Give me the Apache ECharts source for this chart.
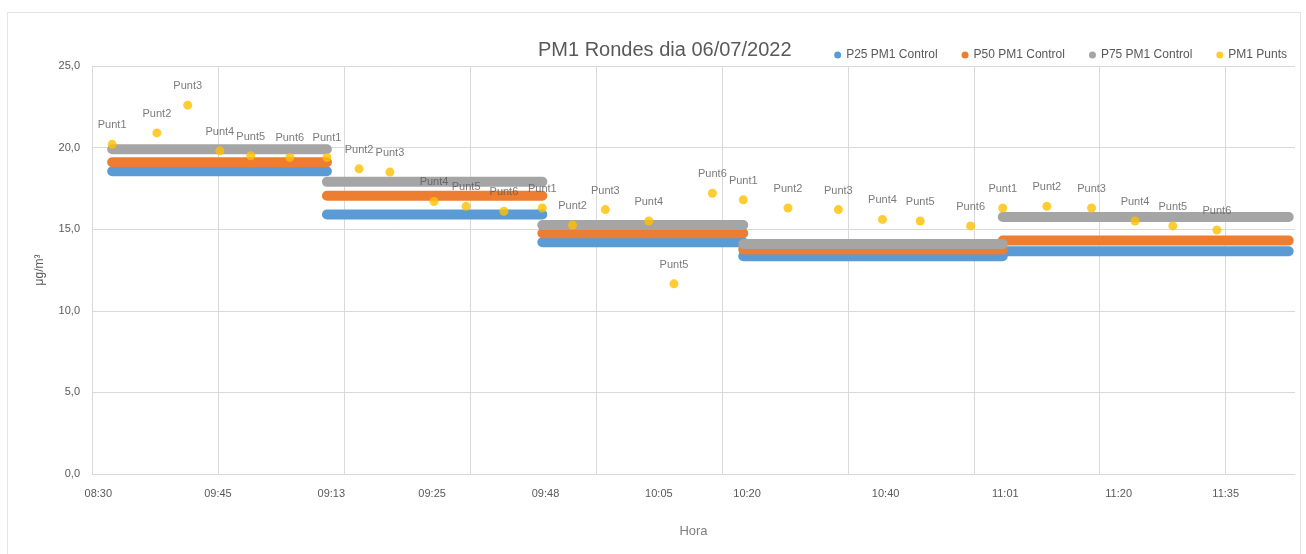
<!DOCTYPE html>
<html>
<head>
<meta charset="utf-8">
<title>PM1 Rondes dia 06/07/2022</title>
<script src="https://cdn.jsdelivr.net/npm/echarts@6/dist/echarts.min.js"></script>
<style>
  html, body { margin: 0; padding: 0; background: #fff; }
  #frame { position: absolute; left: 7px; top: 12px; width: 1292px; height: 560px; border: 1px solid #e4e4e4; }
  #chart { position: absolute; left: 0; top: 0; width: 1306px; height: 554px; }
</style>
</head>
<body>
<div id="frame"></div>
<div id="chart"></div>
<script>
// eix X: posicions (minuts des de l'inici) i etiquetes d'hora
const tickPos = [1, 20, 38, 54, 72, 90, 104, 126, 145, 163, 180];
const tickLabels = ['08:30', '09:45', '09:13', '09:25', '09:48', '10:05', '10:20', '10:40', '11:01', '11:20', '11:35'];

// trams de cada ronda (inici / final)
const rondaStart = [3.2, 37.3, 71.5, 103.4, 144.6];
const rondaEnd = [37.3, 71.5, 103.4, 144.6, 190];

// percentils de control per ronda
const p25 = [18.55, 15.9, 14.2, 13.35, 13.65];
const p50 = [19.1, 17.05, 14.75, 13.75, 14.3];
const p75 = [19.9, 17.9, 15.25, 14.1, 15.75];

// punts de mesura
const puntNames = ['Punt1', 'Punt2', 'Punt3', 'Punt4', 'Punt5', 'Punt6'];
const puntX = [
  3.2, 10.3, 15.2, 20.3, 25.2, 31.4,
  37.3, 42.4, 47.3, 54.3, 59.4, 65.4,
  71.5, 76.3, 81.5, 88.4, 92.4, 98.5,
  103.4, 110.5, 118.5, 125.5, 131.5, 139.5,
  144.6, 151.6, 158.7, 165.6, 171.6, 178.6
];
const puntVal = [
  20.2, 20.9, 22.6, 19.8, 19.5, 19.4,
  19.4, 18.7, 18.5, 16.7, 16.4, 16.1,
  16.3, 15.25, 16.2, 15.5, 11.65, 17.2,
  16.8, 16.3, 16.2, 15.6, 15.5, 15.2,
  16.3, 16.4, 16.3, 15.5, 15.2, 14.95
];

const FONT = "'Liberation Sans Narrow', 'Liberation Sans', sans-serif";
const TXT = '#595959';
const GRID = '#d9d9d9';

// construeix els trams horitzontals d'un percentil
const steps = (vals) => {
  const out = [];
  vals.forEach((v, i) => {
    out.push([rondaStart[i], v], [rondaEnd[i], v], [rondaEnd[i], '-']);
  });
  return out;
};

const stepSeries = (name, vals, color) => ({
  name,
  type: 'line',
  data: steps(vals),
  showSymbol: false,
  symbol: 'circle',
  connectNulls: false,
  lineStyle: { width: 10, color, cap: 'round' },
  itemStyle: { color },
  emphasis: { disabled: true }
});

const chart = echarts.init(document.getElementById('chart'));

chart.setOption({
  animation: false,
  textStyle: { fontFamily: FONT },
  title: {
    text: 'PM1 Rondes dia 06/07/2022',
    left: 533,
    top: 35,
    textStyle: { fontFamily: FONT, fontSize: 20, fontWeight: 'normal', color: TXT }
  },
  legend: {
    top: 44,
    right: 14,
    icon: 'circle',
    itemWidth: 7,
    itemHeight: 7,
    itemGap: 24,
    textStyle: { fontFamily: FONT, fontSize: 12, color: TXT },
    data: ['P25 PM1 Control', 'P50 PM1 Control', 'P75 PM1 Control', 'PM1 Punts']
  },
  grid: { left: 92, right: 11, top: 66, bottom: 80 },
  xAxis: {
    type: 'value',
    min: 0,
    max: 191,
    interval: 20,
    axisLine: { show: true, lineStyle: { color: GRID } },
    axisTick: { show: false },
    splitLine: { show: true, showMaxLine: false, lineStyle: { color: GRID } },
    axisLabel: {
      customValues: tickPos,
      formatter: (v) => tickLabels[tickPos.indexOf(v)],
      color: TXT,
      fontSize: 11,
      margin: 14
    },
    name: 'Hora',
    nameLocation: 'middle',
    nameGap: 51,
    nameTextStyle: { color: '#7f7f7f', fontSize: 13 }
  },
  yAxis: {
    type: 'value',
    min: 0,
    max: 25,
    interval: 5,
    axisLine: { show: true, lineStyle: { color: GRID } },
    axisTick: { show: false },
    splitLine: { show: true, lineStyle: { color: GRID } },
    axisLabel: {
      formatter: (v) => v.toFixed(1).replace('.', ','),
      color: TXT,
      fontSize: 11,
      margin: 12
    },
    name: 'μg/m³',
    nameLocation: 'middle',
    nameGap: 46,
    nameRotate: 90,
    nameTextStyle: { color: TXT, fontSize: 12 }
  },
  series: [
    stepSeries('P25 PM1 Control', p25, '#5B9BD5'),
    stepSeries('P50 PM1 Control', p50, '#ED7D31'),
    stepSeries('P75 PM1 Control', p75, '#A5A5A5'),
    {
      name: 'PM1 Punts',
      type: 'scatter',
      symbol: 'circle',
      symbolSize: 9,
      data: puntX.map((x, i) => [x, puntVal[i]]),
      itemStyle: { color: '#FFC000' },
      label: {
        show: true,
        position: 'top',
        distance: 9,
        formatter: (p) => puntNames[p.dataIndex % 6],
        color: TXT,
        fontSize: 11
      },
      z: 5
    }
  ]
});
</script>
</body>
</html>
